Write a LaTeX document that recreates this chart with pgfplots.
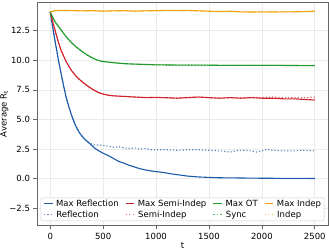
\documentclass[border=0pt]{standalone}
\usepackage{fontspec}
\setmainfont{DejaVu Sans}
\usepackage{pgfplots}
\pgfplotsset{compat=1.18}
\definecolor{cblue}{HTML}{1A5AA8}
\definecolor{cred}{HTML}{D0222A}
\definecolor{cgreen}{HTML}{1E9A2A}
\definecolor{corange}{HTML}{F0A30A}
\tikzset{dotsty/.style={dash pattern=on 1.2pt off 2pt, opacity=0.75}}
\newcommand{\solidh}[1]{\textcolor{#1}{\rule[1.9pt]{8.7pt}{1.1pt}}\hspace{3.5pt}}
\newcommand{\doth}[1]{\textcolor{#1!70}{\rule[1.9pt]{1.2pt}{1.1pt}\hspace{2.3pt}\rule[1.9pt]{1.2pt}{1.1pt}\hspace{2.3pt}\rule[1.9pt]{1.2pt}{1.1pt}}\hspace{4.3pt}}
\begin{document}
\begin{tikzpicture}
\begin{axis}[
  name=ax,
  scale only axis,
  width=291pt, height=223.7pt,
  xmin=-125, xmax=2625, ymin=-3.97, ymax=14.93,
  xtick={0,500,1000,1500,2000,2500},
  xticklabels={0,500,1000,1500,2000,2500},
  ytick={-2.5,0,2.5,5,7.5,10,12.5},
  yticklabels={−2.5,0.0,2.5,5.0,7.5,10.0,12.5},
  tick label style={font=\fontsize{8.5}{10}\selectfont},
  label style={font=\fontsize{8.5}{10}\selectfont},
  xlabel={t}, ylabel={Average R\textsubscript{t}},
  xlabel style={yshift=3pt},
  ylabel style={yshift=-6pt},
  grid=major,
  major grid style={color=black!8, line width=0.6pt},
  axis line style={black!60, line width=0.7pt},
  tick style={black!60, line width=0.6pt},
  major tick length=3.5pt,
  tick align=outside,
  xtick pos=bottom, ytick pos=left,
  legend columns=4,
  legend cell align=left,
  legend style={at={(0.5,0.021)}, anchor=south, draw=black!20, rounded corners=2pt,
    fill=white,
    font=\fontsize{8.5}{10}\selectfont,
    inner xsep=2pt, inner ysep=1pt, row sep=1pt,
    /tikz/every odd column/.style={column sep=0pt},
    /tikz/every even column/.style={column sep=5pt},
    nodes={inner sep=1pt}},
  legend image code/.code={},
  every axis plot/.append style={line width=1.1pt},
]
\addlegendimage{draw=none}
\addlegendentry{\solidh{cblue}Max Reflection}
\addlegendimage{draw=none}
\addlegendentry{\solidh{cred}Max Semi-Indep}
\addlegendimage{draw=none}
\addlegendentry{\solidh{cgreen}Max OT}
\addlegendimage{draw=none}
\addlegendentry{\solidh{corange}Max Indep}
\addlegendimage{draw=none}
\addlegendentry{\doth{cblue}Reflection}
\addlegendimage{draw=none}
\addlegendentry{\doth{cred}Semi-Indep}
\addlegendimage{draw=none}
\addlegendentry{\doth{cgreen}Sync}
\addlegendimage{draw=none}
\addlegendentry{\doth{corange}Indep}
% Max Reflection
\addplot[draw=cblue, solid, forget plot] table {
0 14.10
20 13.0
40 11.9
60 10.9
80 9.9
100 9.0
125 7.9
150 6.9
175 6.1
200 5.4
225 4.8
250 4.3
275 3.9
300 3.6
325 3.35
350 3.15
375 2.95
400 2.75
425 2.55
450 2.40
500 2.15
550 1.95
600 1.70
650 1.45
700 1.30
750 1.12
800 0.98
850 0.84
900 0.74
950 0.66
1000 0.60
1050 0.55
1100 0.48
1150 0.40
1200 0.34
1250 0.28
1300 0.22
1400 0.15
1500 0.11
1600 0.08
1700 0.07
1800 0.06
2000 0.04
2200 0.03
2500 0.02
};
% Reflection
\addplot[draw=cblue, dotsty, forget plot] table {
0 14.10
20 13.0
40 11.9
60 10.9
80 9.9
100 9.0
125 7.9
150 6.9
175 6.1
200 5.4
225 4.8
250 4.3
275 3.9
300 3.6
325 3.35
350 3.15
375 3.0
400 2.9
425 2.85
450 2.85
500 2.8
550 2.75
600 2.65
650 2.7
700 2.6
750 2.55
800 2.6
850 2.5
900 2.55
950 2.45
1000 2.45
1100 2.45
1200 2.4
1300 2.45
1400 2.45
1500 2.4
1600 2.35
1700 2.25
1750 2.35
1800 2.4
1900 2.35
1950 2.25
2000 2.35
2050 2.5
2100 2.4
2200 2.35
2300 2.35
2400 2.4
2500 2.35
};
% Max Semi-Indep
\addplot[draw=cred, solid, forget plot] table {
0 14.1
25 13.2
50 12.4
75 11.6
100 10.9
150 9.9
200 9.15
250 8.6
300 8.2
350 7.85
400 7.55
450 7.3
500 7.15
550 7.05
600 7.0
700 6.95
800 6.9
900 6.85
1000 6.87
1100 6.84
1200 6.8
1300 6.85
1400 6.9
1500 6.85
1600 6.8
1700 6.85
1800 6.8
1900 6.85
2000 6.8
2100 6.8
2200 6.75
2300 6.75
2400 6.7
2500 6.65
};
% Semi-Indep
\addplot[draw=cred, dotsty, forget plot] table {
0 14.1
25 13.2
50 12.4
75 11.6
100 10.9
150 9.9
200 9.15
250 8.6
300 8.2
350 7.85
400 7.55
450 7.3
500 7.15
550 7.05
600 7.0
700 6.95
800 6.9
900 6.87
1000 6.85
1100 6.85
1200 6.83
1300 6.87
1400 6.9
1500 6.85
1600 6.82
1700 6.85
1800 6.85
1900 6.87
2000 6.85
2100 6.9
2200 6.85
2300 6.85
2400 6.85
2500 6.9
};
% Max OT
\addplot[draw=cgreen, solid, forget plot] table {
0 14.1
25 13.6
50 13.2
75 12.9
100 12.6
150 12.0
200 11.5
250 11.1
300 10.75
350 10.45
400 10.2
450 10.0
500 9.9
600 9.8
700 9.72
800 9.68
900 9.65
1000 9.62
1200 9.6
1400 9.6
1600 9.58
1800 9.58
2000 9.58
2200 9.57
2500 9.55
};
% Sync
\addplot[draw=cgreen, dotsty, forget plot] table {
0 14.1
25 13.6
50 13.2
75 12.9
100 12.6
150 12.0
200 11.5
250 11.1
300 10.75
350 10.45
400 10.2
450 10.0
500 9.9
600 9.8
700 9.72
800 9.68
900 9.66
1000 9.63
1200 9.62
1400 9.6
1600 9.6
1800 9.6
2000 9.6
2200 9.58
2500 9.57
};
% Max Indep
\addplot[draw=corange, solid, forget plot] table {
0 14.1
50 14.2
100 14.22
200 14.2
300 14.18
400 14.2
500 14.15
600 14.18
700 14.2
800 14.15
900 14.18
1000 14.2
1100 14.22
1200 14.2
1300 14.22
1400 14.18
1500 14.15
1600 14.12
1700 14.15
1800 14.1
1900 14.08
2000 14.1
2100 14.08
2200 14.1
2300 14.1
2400 14.12
2500 14.15
};
% Indep
\addplot[draw=corange, dotsty, forget plot] table {
0 14.1
50 14.2
100 14.2
200 14.22
300 14.2
400 14.18
500 14.17
600 14.2
700 14.18
800 14.17
900 14.2
1000 14.18
1100 14.2
1200 14.22
1300 14.2
1400 14.17
1500 14.15
1600 14.13
1700 14.12
1800 14.1
1900 14.1
2000 14.08
2100 14.1
2200 14.1
2300 14.12
2400 14.12
2500 14.13
};
\end{axis}
\pgfresetboundingbox
\path ([xshift=-37pt,yshift=-25.3pt]ax.south west) rectangle ([xshift=1pt,yshift=2pt]ax.north east);
\end{tikzpicture}
\end{document}
